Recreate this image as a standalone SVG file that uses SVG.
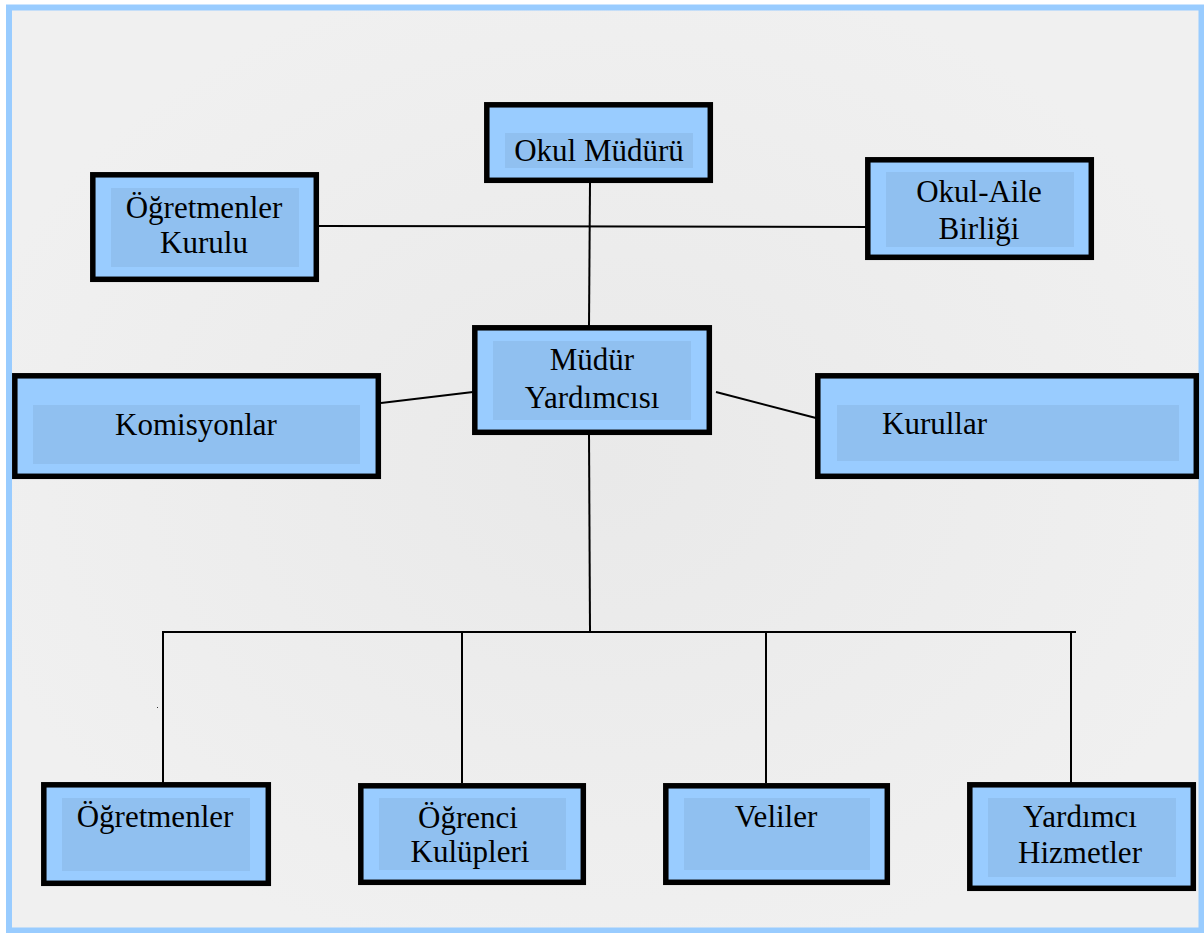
<svg xmlns="http://www.w3.org/2000/svg" width="1204" height="933" viewBox="0 0 1204 933">
<style>
.box{fill:#99ccff;stroke:#000;stroke-width:5.5}
.inner{fill:#90c0f0}
.t{font-family:"Liberation Serif","Times New Roman",serif;font-size:31px;fill:#000;text-anchor:middle}
.c{stroke:#000;stroke-width:2;fill:none}
</style>
<defs>
<radialGradient id="bg" cx="0.5" cy="0.5" r="0.55">
<stop offset="0" stop-color="#e9e9e9"/>
<stop offset="1" stop-color="#f0f0f0"/>
</radialGradient>
</defs>
<rect x="0" y="0" width="1204" height="933" fill="#ffffff"/>
<rect x="9" y="7.5" width="1192.5" height="923" fill="url(#bg)" stroke="#99ccff" stroke-width="6"/>
<g id="connectors">
<line class="c" x1="590" y1="183" x2="589" y2="327"/>
<line class="c" x1="319" y1="226" x2="872" y2="227"/>
<line class="c" x1="381" y1="403" x2="473" y2="392"/>
<line class="c" x1="716" y1="392" x2="816" y2="418"/>
<line class="c" x1="589" y1="433" x2="590" y2="632"/>
<line class="c" x1="163" y1="632" x2="1076" y2="632"/>
<line class="c" x1="163" y1="631" x2="163" y2="783"/>
<line class="c" x1="462" y1="631" x2="462" y2="783"/>
<line class="c" x1="766" y1="631" x2="766" y2="783"/>
<line class="c" x1="1071" y1="631" x2="1071" y2="783"/>
<rect x="157" y="707" width="1" height="1" fill="#333"/>
</g>
<g id="okul-muduru">
<rect class="box" x="486.8" y="104.8" width="223.5" height="75.5"/>
<rect class="inner" x="505" y="133" width="188" height="35"/>
<text class="t" x="599" y="161">Okul Müdürü</text>
</g>
<g id="ogretmenler-kurulu">
<rect class="box" x="92.8" y="174.8" width="223.5" height="104.5"/>
<rect class="inner" x="111" y="188" width="188" height="79"/>
<text class="t" x="204" y="218">Öğretmenler</text>
<text class="t" x="204" y="253">Kurulu</text>
</g>
<g id="okul-aile-birligi">
<rect class="box" x="867.8" y="159.8" width="223.5" height="97.5"/>
<rect class="inner" x="886" y="172" width="188" height="75"/>
<text class="t" x="979" y="202">Okul-Aile</text>
<text class="t" x="979" y="239">Birliği</text>
</g>
<g id="mudur-yardimcisi">
<rect class="box" x="474.8" y="327.8" width="234.5" height="104.5"/>
<rect class="inner" x="493" y="341" width="198" height="79"/>
<text class="t" x="592" y="370">Müdür</text>
<text class="t" x="592" y="408">Yardımcısı</text>
</g>
<g id="komisyonlar">
<rect class="box" x="14.8" y="375.8" width="363.5" height="100.5"/>
<rect class="inner" x="33" y="405" width="327" height="59"/>
<text class="t" x="196" y="435">Komisyonlar</text>
</g>
<g id="kurullar">
<rect class="box" x="817.8" y="375.8" width="378.5" height="100.5"/>
<rect class="inner" x="837" y="405" width="342" height="56"/>
<text class="t" x="882" y="434" style="text-anchor:start">Kurullar</text>
</g>
<g id="ogretmenler">
<rect class="box" x="43.8" y="784.8" width="224.5" height="98.5"/>
<rect class="inner" x="62" y="798" width="188" height="73"/>
<text class="t" x="155" y="827">Öğretmenler</text>
</g>
<g id="ogrenci-kulupleri">
<rect class="box" x="360.8" y="785.8" width="222.5" height="96.5"/>
<rect class="inner" x="379" y="798" width="187" height="72"/>
<text class="t" x="468" y="828">Öğrenci</text>
<text class="t" x="470" y="862">Kulüpleri</text>
</g>
<g id="veliler">
<rect class="box" x="665.8" y="785.8" width="221.5" height="96.5"/>
<rect class="inner" x="684" y="798" width="186" height="72"/>
<text class="t" x="776" y="827">Veliler</text>
</g>
<g id="yardimci-hizmetler">
<rect class="box" x="969.8" y="784.8" width="223.5" height="103.5"/>
<rect class="inner" x="988" y="798" width="188" height="79"/>
<text class="t" x="1080" y="827">Yardımcı</text>
<text class="t" x="1080" y="863">Hizmetler</text>
</g>
</svg>
